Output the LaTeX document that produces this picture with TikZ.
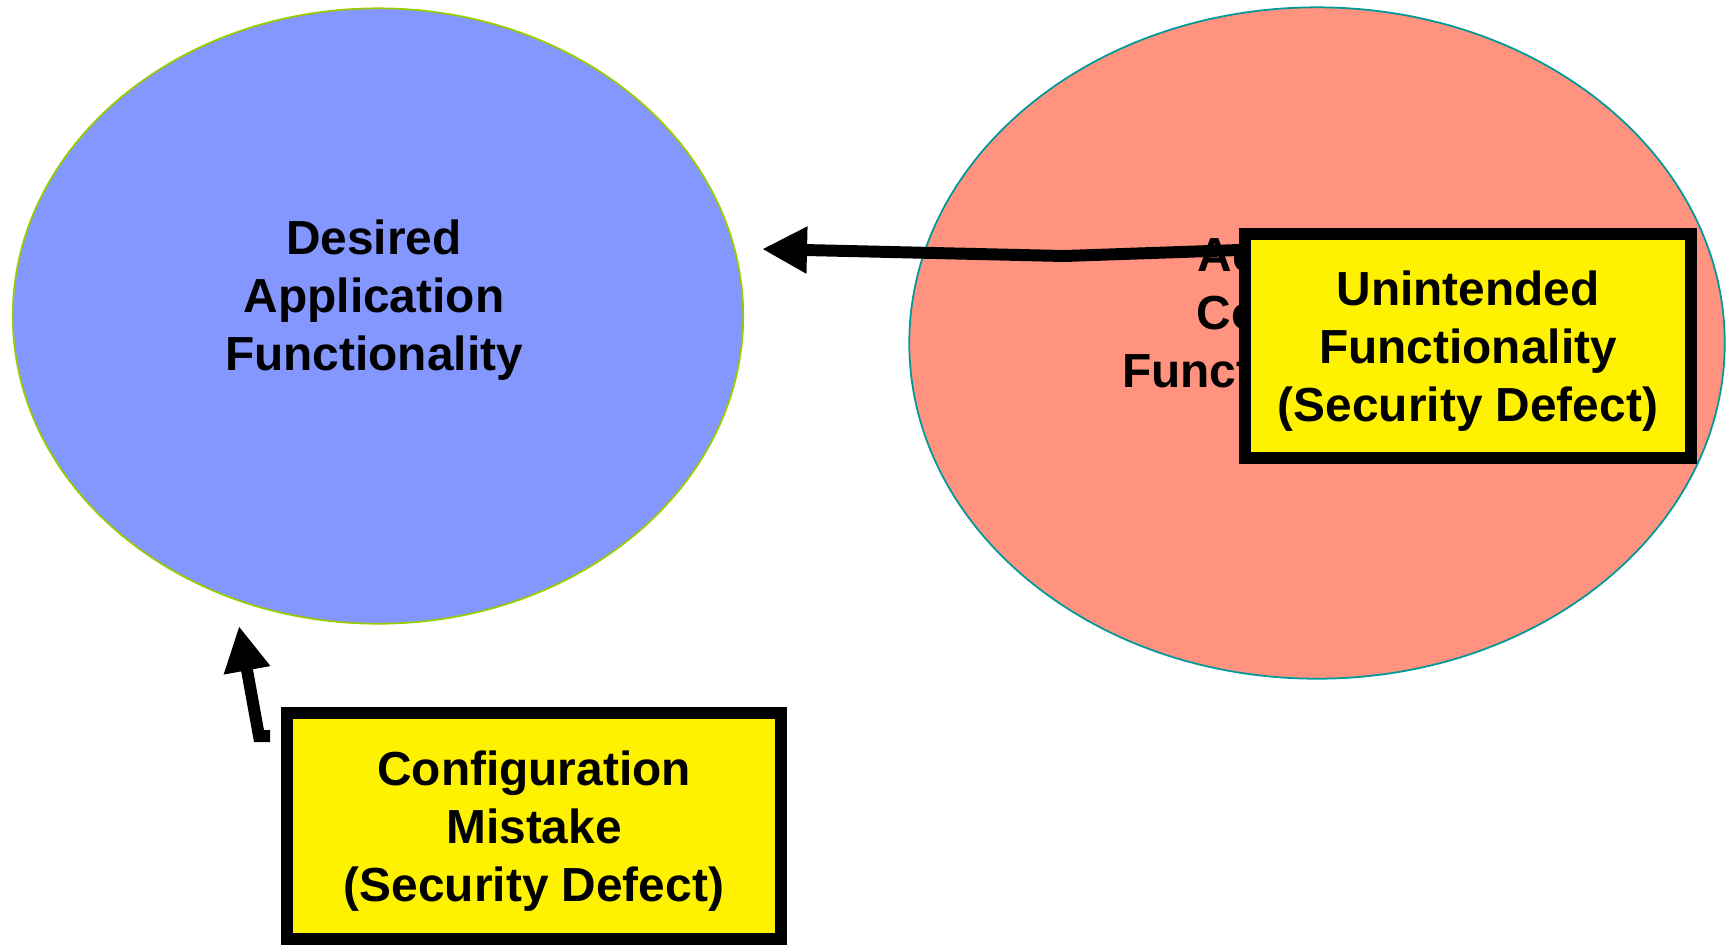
\documentclass[tikz,border=0pt]{standalone}
\usepackage{fontspec}
\setmainfont{Liberation Sans}
\usetikzlibrary{shapes.geometric,arrows.meta}
\definecolor{desiredblue}{RGB}{132,151,255}
\definecolor{actualred}{RGB}{255,147,128}
\definecolor{limeedge}{RGB}{153,204,0}
\definecolor{tealedge}{RGB}{0,153,153}
\tikzset{
    blob/.style={ellipse, inner sep=0pt, line width=0.5pt},
    caption/.style={align=center, font=\fontsize{13.6}{16.5}\selectfont\bfseries},
    defect/.style={draw, fill=yellow, line width=3.4pt, inner sep=0pt, caption, text depth=0pt},
    pointer/.style={line width=3.4pt, -{Triangle[length=4.5mm,width=4.4mm]}}
}
\begin{document}
\begin{tikzpicture}[x=0.01cm,y=-0.01cm]
        \useasboundingbox (0,0) rectangle (1733,947);
        \node[blob, draw=limeedge, fill=desiredblue, minimum width=7.30cm, minimum height=6.15cm] (desired) at (378,316) {};
        \node[blob, draw=tealedge, fill=actualred, minimum width=8.15cm, minimum height=6.71cm] (actual) at (1317,343) {};
        \node[caption] (desiredtxt) at (374,300) {Desired\\Application\\Functionality};
        \node[caption] (actualtxt) at (1271,317) {Actual\\Coded\\Functionality};
        \node[defect, minimum width=4.45cm, minimum height=2.24cm] (unintended) at (1468,346) {Unintended\\Functionality\\(Security Defect)};
        \node[defect, minimum width=4.94cm, minimum height=2.26cm] (config) at (534,826) {Configuration\\Mistake\\(Security Defect)};

        \coordinate (bendA) at (1064,256);
        \coordinate (tipA) at (762,249);
        \coordinate (footB) at (270,736);
        \coordinate (kneeB) at (259,736);
        \coordinate (tipB) at (239,626);

        \draw[pointer] ([yshift=-0.22cm]unintended.north west) -- (bendA) -- (tipA);
        \draw[pointer] (footB) -- (kneeB) -- (tipB);
    \end{tikzpicture}
\end{document}
